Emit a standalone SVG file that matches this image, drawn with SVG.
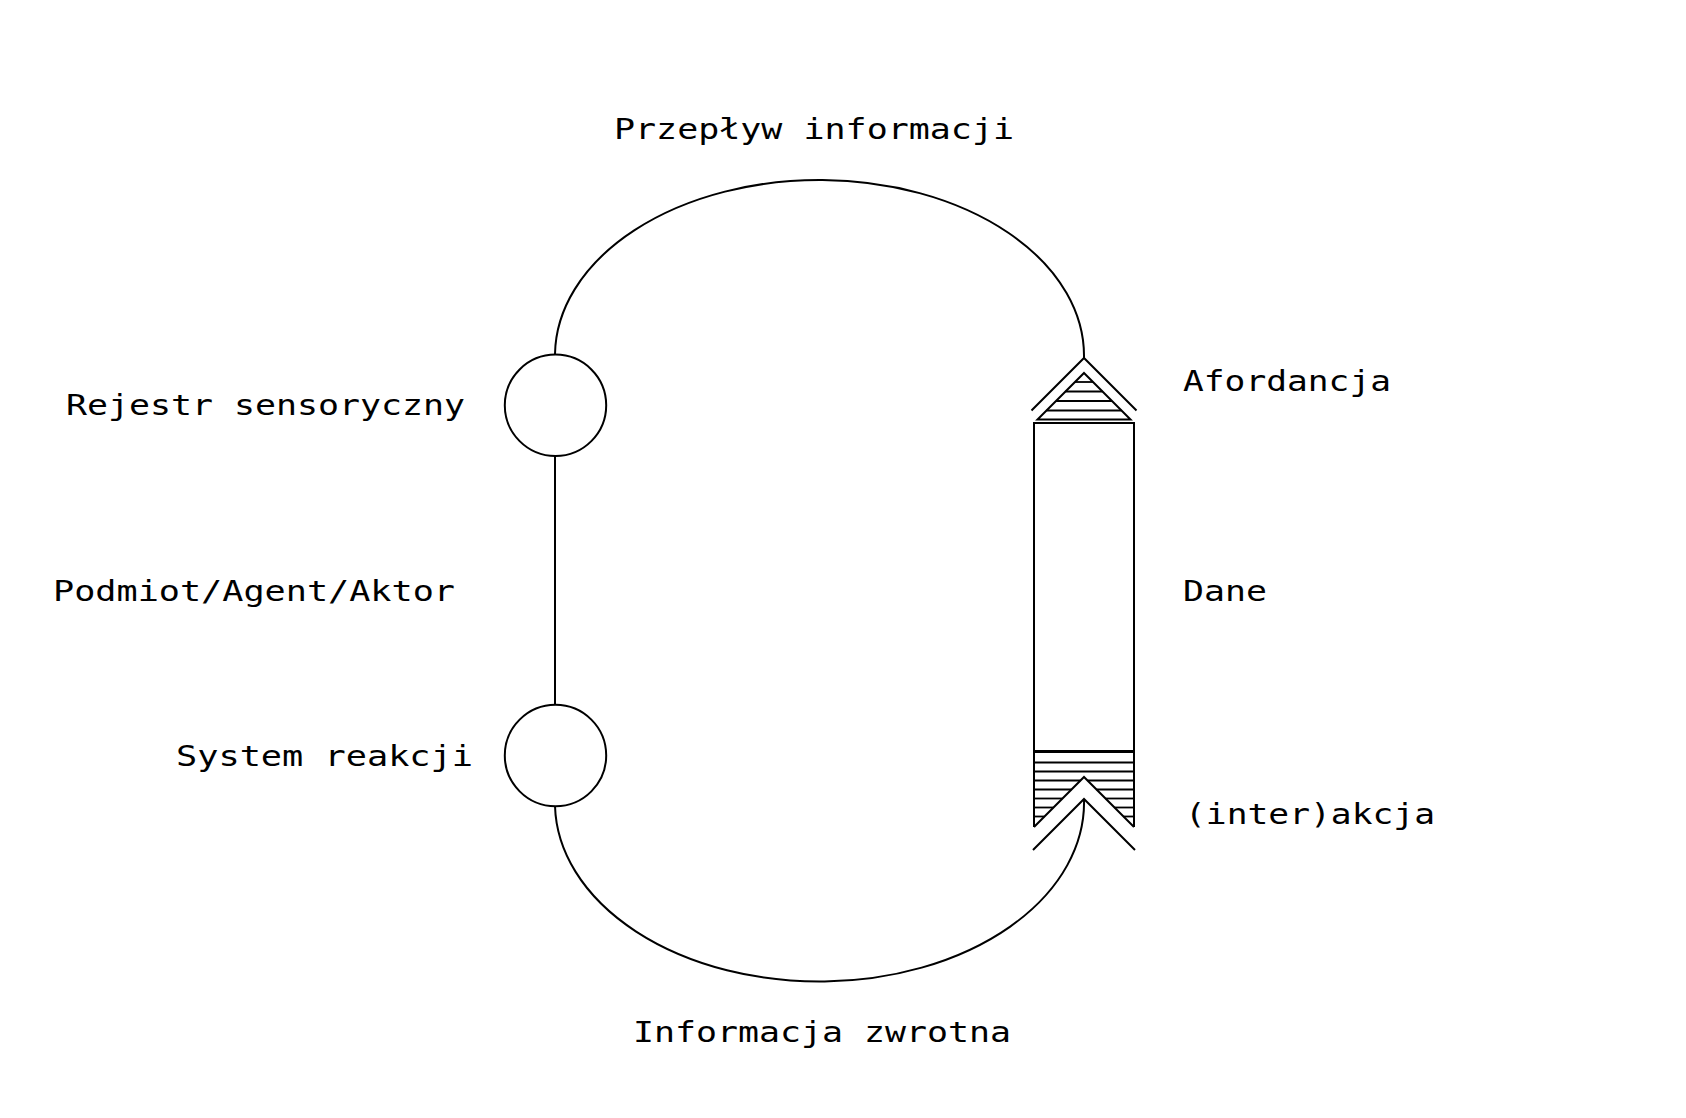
<svg xmlns="http://www.w3.org/2000/svg" width="1686" height="1118" viewBox="0 0 1686 1118">
<style>
.s{fill:none;stroke:#000;stroke-width:2;stroke-linejoin:miter}
.h{stroke:#000;stroke-width:1.8}
.t{font-family:"DejaVu Sans Mono","Liberation Mono",monospace;font-size:28px;fill:#000}
</style>
<rect width="1686" height="1118" fill="#fff"/>
<g id="connectors">
<path class="s" d="M555 354 A264.5 176 0 0 1 1084 358"/>
<path class="s" d="M555 456 L555 704"/>
<path class="s" d="M555 806 A264.5 179 0 0 0 1084 799"/>
</g>
<g id="rejestr-sensoryczny">
<circle class="s" cx="555.5" cy="405.3" r="50.7"/>
<text class="t" x="66" y="415" textLength="399" lengthAdjust="spacingAndGlyphs">Rejestr sensoryczny</text>
</g>
<g id="system-reakcji">
<circle class="s" cx="555.5" cy="755.5" r="50.7"/>
<text class="t" x="176" y="766" textLength="297" lengthAdjust="spacingAndGlyphs">System reakcji</text>
</g>
<g id="podmiot">
<text class="t" x="53" y="601" textLength="402" lengthAdjust="spacingAndGlyphs">Podmiot/Agent/Aktor</text>
</g>
<g id="przeplyw">
<text class="t" x="614" y="139" textLength="400" lengthAdjust="spacingAndGlyphs">Przepływ informacji</text>
</g>
<g id="informacja-zwrotna">
<text class="t" x="633" y="1042" textLength="378" lengthAdjust="spacingAndGlyphs">Informacja zwrotna</text>
</g>
<g id="afordancja">
<polyline class="s" points="1031.5,410.5 1084,358 1136.5,410.5"/>
<polygon class="s" points="1084,373 1130.5,419.5 1037.5,419.5"/>
<line class="h" x1="1075" y1="382" x2="1093" y2="382"/>
<line class="h" x1="1065.5" y1="391.5" x2="1102.5" y2="391.5"/>
<line class="h" x1="1056" y1="401" x2="1112" y2="401"/>
<line class="h" x1="1046.5" y1="410.5" x2="1121.5" y2="410.5"/>
<text class="t" x="1183" y="391" textLength="208" lengthAdjust="spacingAndGlyphs">Afordancja</text>
</g>
<g id="dane">
<path class="s" d="M1034 827 L1034 423 L1134 423 L1134 827"/>
<text class="t" x="1183" y="601" textLength="84" lengthAdjust="spacingAndGlyphs">Dane</text>
</g>
<g id="interakcja">
<line stroke="#000" stroke-width="3" x1="1034" y1="751.5" x2="1134" y2="751.5"/>
<line class="h" x1="1034" y1="762.5" x2="1134" y2="762.5"/>
<line class="h" x1="1034" y1="771.5" x2="1134" y2="771.5"/>
<line class="h" x1="1034" y1="780.5" x2="1080.5" y2="780.5"/>
<line class="h" x1="1087.5" y1="780.5" x2="1134" y2="780.5"/>
<line class="h" x1="1034" y1="789.5" x2="1071.5" y2="789.5"/>
<line class="h" x1="1096.5" y1="789.5" x2="1134" y2="789.5"/>
<line class="h" x1="1034" y1="798.5" x2="1062.5" y2="798.5"/>
<line class="h" x1="1105.5" y1="798.5" x2="1134" y2="798.5"/>
<line class="h" x1="1034" y1="807.5" x2="1053.5" y2="807.5"/>
<line class="h" x1="1114.5" y1="807.5" x2="1134" y2="807.5"/>
<line class="h" x1="1034" y1="816.5" x2="1044.5" y2="816.5"/>
<line class="h" x1="1123.5" y1="816.5" x2="1134" y2="816.5"/>
<polyline class="s" points="1034,827 1084,777 1134,827"/>
<polyline class="s" points="1033,850 1084,799 1135,850"/>
<text class="t" x="1185" y="824" textLength="250" lengthAdjust="spacingAndGlyphs">(inter)akcja</text>
</g>
</svg>
